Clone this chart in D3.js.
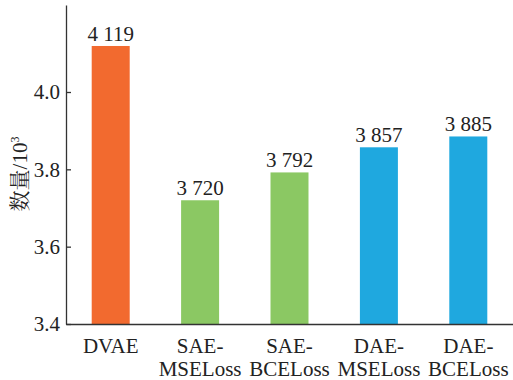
<!DOCTYPE html>
<html>
<head>
<meta charset="utf-8">
<script src="https://cdn.jsdelivr.net/npm/d3@7"></script>
<style>
  html, body { margin: 0; padding: 0; background: #fff; }
  svg { display: block; }
</style>
</head>
<body>
<svg id="chart" width="513" height="380"></svg>
<script>
// Model names (two-line labels) and detected counts
const categories = ["DVAE", "SAE-MSELoss", "SAE-BCELoss", "DAE-MSELoss", "DAE-BCELoss"];
const labelLines = [["DVAE"], ["SAE-", "MSELoss"], ["SAE-", "BCELoss"], ["DAE-", "MSELoss"], ["DAE-", "BCELoss"]];
const values = [4119, 3720, 3792, 3857, 3885];
const valueLabels = ["4 119", "3 720", "3 792", "3 857", "3 885"];
const barColors = ["#F26A2F", "#8BC863", "#8BC863", "#1FA8DF", "#1FA8DF"];
const yTicks = [3.4, 3.6, 3.8, 4.0];

const serif = '"Liberation Serif"';
const textColor = "#222";
const svg = d3.select("#chart");
const plotLeft = 66, plotRight = 513, plotBottom = 324, plotTop = 5;

const x = d3.scaleBand()
  .domain(categories)
  .range([plotLeft, plotRight])
  .paddingInner(0.575)
  .paddingOuter(0.2875);

// values are plotted in thousands
const y = d3.scaleLinear().domain([3.4, 4.225]).range([plotBottom, plotTop]);

// bars
svg.append("g").selectAll("rect")
  .data(categories)
  .join("rect")
  .attr("x", d => x(d))
  .attr("width", x.bandwidth())
  .attr("y", (d, i) => y(values[i] / 1000))
  .attr("height", (d, i) => y(3.4) - y(values[i] / 1000))
  .attr("fill", (d, i) => barColors[i]);

// value labels above bars
svg.append("g").selectAll("text")
  .data(categories)
  .join("text")
  .attr("x", d => x(d) + x.bandwidth() / 2)
  .attr("y", (d, i) => y(values[i] / 1000) - 5)
  .attr("text-anchor", "middle")
  .attr("fill", textColor)
  .style("font-family", serif)
  .style("font-size", "21px")
  .text((d, i) => valueLabels[i]);

// y axis with inward ticks
const yAxis = d3.axisLeft(y)
  .tickValues(yTicks)
  .tickFormat(d3.format(".1f"))
  .tickSizeInner(-5)
  .tickSizeOuter(0)
  .tickPadding(6);

const gy = svg.append("g")
  .attr("transform", `translate(${plotLeft},0)`)
  .call(yAxis);
gy.select(".domain").attr("stroke", "#333").attr("stroke-width", 1.3);
gy.selectAll(".tick line").attr("stroke", "#333").attr("stroke-width", 1.3);
gy.selectAll(".tick text")
  .style("font-family", serif)
  .style("font-size", "21px")
  .attr("fill", textColor);

// x axis baseline
const xAxis = d3.axisBottom(x).tickSize(0).tickFormat("");
const gx = svg.append("g")
  .attr("transform", `translate(0,${plotBottom})`)
  .call(xAxis);
gx.select(".domain").attr("stroke", "#333").attr("stroke-width", 1.3);

// two-line category labels
const cat = svg.append("g").selectAll("text")
  .data(categories)
  .join("text")
  .attr("text-anchor", "middle")
  .attr("fill", textColor)
  .style("font-family", serif)
  .style("font-size", "21px")
  .attr("transform", d => `translate(${x(d) + x.bandwidth() / 2},${plotBottom + 29})`);
cat.selectAll("tspan")
  .data((d, i) => labelLines[i])
  .join("tspan")
  .attr("x", 0)
  .attr("dy", (d, j) => j === 0 ? 0 : 23)
  .text(d => d);

// y axis title
const title = svg.append("text")
  .attr("transform", "translate(27,174) rotate(-90)")
  .attr("text-anchor", "middle")
  .attr("fill", textColor)
  .style("font-family", serif)
  .style("font-size", "21px");
title.append("tspan")
  .style("font-family", '"Noto Serif CJK SC"')
  .text("数量");
title.append("tspan").text("/10");
title.append("tspan")
  .attr("dy", -8)
  .style("font-size", "12px")
  .text("3");
</script>
</body>
</html>
